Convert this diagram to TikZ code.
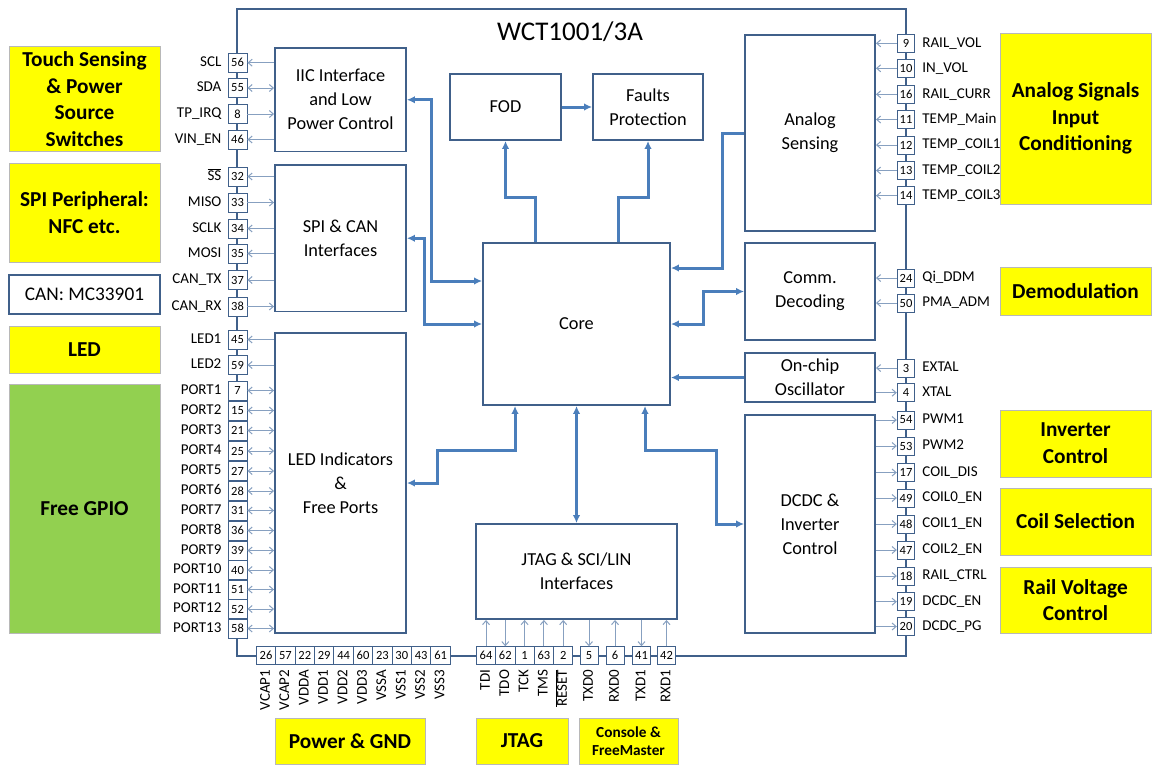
\documentclass[tikz,border=0pt]{standalone}
\usepackage{fontspec}
\setmainfont{Carlito}
\usetikzlibrary{arrows.meta,calc}
\definecolor{blk}{RGB}{64,96,138}
\definecolor{thk}{RGB}{74,126,187}
\definecolor{thn}{RGB}{135,160,192}
\definecolor{yel}{RGB}{255,255,0}
\definecolor{grn}{RGB}{146,208,80}
\begin{document}
\begin{tikzpicture}[x=1pt,y=-1pt,
  chip/.style={draw=blk,line width=2pt},
  block/.style={draw=blk,line width=1.9pt,fill=white,align=center,inner sep=0pt,font=\fontsize{18.3}{24}\selectfont},
  thkarr/.style={draw=thk,line width=3pt,>={Latex[length=8pt,width=7.5pt]}},
  pinarr/.style={draw=thn,line width=1pt,>={Straight Barb[length=4pt,width=7pt]}},
  lpin/.style={draw=blk,line width=0.9pt,fill=white,minimum width=19pt,minimum height=19pt,inner sep=0pt,font=\fontsize{12.5}{12.5}\selectfont},
  rpin/.style={lpin,minimum width=17.5pt,minimum height=18pt},
  bpin/.style={lpin,minimum width=19.4pt,minimum height=17.5pt},
  jpin/.style={lpin,minimum width=19.3pt,minimum height=17.5pt},
  spin/.style={lpin,minimum width=18pt,minimum height=17.5pt},
  plbl/.style={inner sep=0pt,font=\fontsize{15}{15}\selectfont,text height=10.5pt,text depth=3pt},
  ybox/.style={draw=black!28,line width=0.6pt,fill=yel,align=center,inner sep=0pt,font=\bfseries\fontsize{21.3}{26.7}\selectfont,minimum width=151pt},
]
\useasboundingbox (0,0) rectangle (1156,766);

% chip outline
\draw[chip] (237,655.5) -- (237,9) -- (906,9) -- (906,655.5) -- cycle;
\node[font=\fontsize{27}{27}\selectfont] (title) at (570,32) {WCT1001/3A};

% blocks
\node[block,minimum width=131pt,minimum height=103.5pt] (iic) at (340.5,99.75) {IIC Interface\\and Low\\Power Control};
\node[block,minimum width=131pt,minimum height=146.5pt] (spi) at (340.5,238.25) {SPI \& CAN\\Interfaces};
\node[block,minimum width=131pt,minimum height=300pt] (led) at (340.5,483) {LED Indicators\\\&\\Free Ports};
\node[block,minimum width=111pt,minimum height=66pt] (fod) at (505.5,107) {FOD};
\node[block,minimum width=110pt,minimum height=66pt] (faults) at (648,107) {Faults\\Protection};
\node[block,minimum width=187pt,minimum height=162pt] (core) at (576.5,324) {Core};
\node[block,minimum width=130pt,minimum height=196pt] (analog) at (810,133) {Analog\\Sensing};
\node[block,minimum width=130pt,minimum height=97pt] (comm) at (810,291.5) {Comm.\\Decoding};
\node[block,minimum width=130pt,minimum height=49pt] (osc) at (810,377.5) {On-chip\\Oscillator};
\node[block,minimum width=130pt,minimum height=218pt] (dcdc) at (810,524) {DCDC \&\\Inverter\\Control};
\node[block,minimum width=201pt,minimum height=95pt] (jtag) at (576.5,571.5) {JTAG \& SCI/LIN\\Interfaces};

% thick connectors
\draw[thkarr,<->] (iic.east) -| (431,281) -- ($(core.west)+(0,-43)$);
\draw[thkarr,<->] (spi.east) -| (424,324) -- (core.west);
\draw[thkarr,<->] (led.east) -| (437,450) -| ($(core.south)+(-61.5,0)$);
\draw[thkarr,<->] (core.south) -- (jtag.north);
\draw[thkarr,<->] ($(core.south)+(68.5,0)$) |- (716,450) |- (dcdc.west);
\draw[thkarr,->] ($(core.north)+(-41.5,0)$) |- (505.5,197) -- (fod.south);
\draw[thkarr,->] ($(core.north)+(41.5,0)$) |- (648,197) -- (faults.south);
\draw[thkarr,->] (fod.east) -- (faults.west);
\draw[thkarr,->] (analog.west) -| (722,268) -- ($(core.east)+(0,-56)$);
\draw[thkarr,<->] (comm.west) -| (703,324) -- (core.east);
\draw[thkarr,->] (osc.west) -- (osc.west -| core.east);

% left pins
\foreach \n/\y/\t/\d in {56/62.7/SCL/<-, 55/88/SDA/<->, 8/114/TP\_IRQ/->, 46/139.5/VIN\_EN/<-}{
  \node[lpin] (pL\n) at (237.5,\y) {\n};
  \node[plbl,anchor=east] (lL\n) at ($(pL\n.west)+(-6,0)$) {\t};
  \draw[pinarr,\d] (pL\n.east) -- (pL\n.east -| iic.west);
}
\foreach \n/\y/\t/\d in {32/176.5/{$\overline{\mbox{SS}}$}/<-, 33/202.5/MISO/->, 34/228.5/SCLK/<-, 35/253.5/MOSI/<-, 37/280/CAN\_TX/<-, 38/306.5/CAN\_RX/->}{
  \node[lpin] (pL\n) at (237.5,\y) {\n};
  \node[plbl,anchor=east] (lL\n) at ($(pL\n.west)+(-6,0)$) {\t};
  \draw[pinarr,\d] (pL\n.east) -- (pL\n.east -| spi.west);
}
\foreach \n/\y/\t/\d in {45/339.5/LED1/<-, 59/365/LED2/<-, 7/390.5/PORT1/<->, 15/410.5/PORT2/<->, 21/430.5/PORT3/<->, 25/451/PORT4/<->, 27/471/PORT5/<->, 28/491/PORT6/<->, 31/510.5/PORT7/<->, 36/530.5/PORT8/<->, 39/550.5/PORT9/<->, 40/570/PORT10/<->, 51/589.5/PORT11/<->, 52/609/PORT12/<->, 58/628.5/PORT13/<->}{
  \node[lpin] (pL\n) at (237.5,\y) {\n};
  \node[plbl,anchor=east] (lL\n) at ($(pL\n.west)+(-6,0)$) {\t};
  \draw[pinarr,\d] (pL\n.east) -- (pL\n.east -| led.west);
}

% right pins
\foreach \n/\y/\t in {9/43.3/RAIL\_VOL, 10/68.3/IN\_VOL, 16/94.3/RAIL\_CURR, 11/119.5/TEMP\_Main, 12/145/TEMP\_COIL1, 13/170.5/TEMP\_COIL2, 14/195.7/TEMP\_COIL3}{
  \node[rpin] (pR\n) at (906,\y) {\n};
  \node[plbl,anchor=west] (lR\n) at ($(pR\n.east)+(7,0)$) {\t};
  \draw[pinarr,->] (pR\n.west) -- (pR\n.west -| analog.east);
}
\foreach \n/\y/\t in {24/278/Qi\_DDM, 50/303/PMA\_ADM}{
  \node[rpin] (pR\n) at (906,\y) {\n};
  \node[plbl,anchor=west] (lR\n) at ($(pR\n.east)+(7,0)$) {\t};
  \draw[pinarr,->] (pR\n.west) -- (pR\n.west -| comm.east);
}
\foreach \n/\y/\t/\d in {3/368/EXTAL/->, 4/392.7/XTAL/<-}{
  \node[rpin] (pR\n) at (906,\y) {\n};
  \node[plbl,anchor=west] (lR\n) at ($(pR\n.east)+(7,0)$) {\t};
  \draw[pinarr,\d] (pR\n.west) -- (pR\n.west -| osc.east);
}
\foreach \n/\y/\t in {54/420/PWM1, 53/446/PWM2, 17/472.5/COIL\_DIS, 49/498/COIL0\_EN, 48/524/COIL1\_EN, 47/550/COIL2\_EN, 18/576/RAIL\_CTRL, 19/601.7/DCDC\_EN, 20/626.5/DCDC\_PG}{
  \node[rpin] (pR\n) at (906,\y) {\n};
  \node[plbl,anchor=west] (lR\n) at ($(pR\n.east)+(7,0)$) {\t};
  \draw[pinarr,<-] (pR\n.west) -- (pR\n.west -| dcdc.east);
}

% bottom power pins
\foreach \n/\x/\t in {26/266/VCAP1, 57/285.4/VCAP2, 22/304.8/VDDA, 29/324.2/VDD1, 44/343.6/VDD2, 60/363/VDD3, 23/382.4/VSSA, 30/401.8/VSS1, 43/421.2/VSS2, 61/440.6/VSS3}{
  \node[bpin] (pB\n) at (\x,655.5) {\n};
  \node[plbl,rotate=90,anchor=east] (lB\n) at ($(pB\n.south)+(0,5)$) {\t};
}
% bottom JTAG / SCI pins
\foreach \n/\x/\t/\d in {64/486/TDI/->, 62/505.3/TDO/<-, 1/524.6/TCK/->, 63/543.9/TMS/->, 2/563.2/{$\overline{\mbox{RESET}}$}/->}{
  \node[jpin] (pB\n) at (\x,655.5) {\n};
  \node[plbl,rotate=90,anchor=east] (lB\n) at ($(pB\n.south)+(0,5)$) {\t};
  \draw[pinarr,\d] (pB\n.north) -- (pB\n.north |- jtag.south);
}
\foreach \n/\x/\t/\d in {5/589/TXD0/<-, 6/615/RXD0/->, 41/641.5/TXD1/<-, 42/666.5/RXD1/->}{
  \node[spin] (pB\n) at (\x,655.5) {\n};
  \node[plbl,rotate=90,anchor=east] (lB\n) at ($(pB\n.south)+(0,5)$) {\t};
  \draw[pinarr,\d] (pB\n.north) -- (pB\n.north |- jtag.south);
}

% external function boxes
\node[ybox,minimum height=105pt] (ytouch) at (84.5,99.2) {Touch Sensing\\\& Power\\Source\\Switches};
\node[ybox,minimum height=99pt] (yspi) at (84.5,212.5) {SPI Peripheral:\\NFC etc.};
\node[draw=blk,line width=1.5pt,fill=white,minimum width=151pt,minimum height=39pt,inner sep=0pt,font=\fontsize{19.3}{19.3}\selectfont] (ycan) at (84.5,294.5) {CAN: MC33901};
\node[ybox,minimum height=47pt] (yled) at (84.5,349.5) {LED};
\node[ybox,fill=grn,minimum height=249pt] (ygpio) at (84.5,508.5) {Free GPIO};
\node[ybox,minimum height=171pt] (yanalog) at (1075.5,118.5) {Analog Signals\\Input\\Conditioning};
\node[ybox,minimum height=48pt] (ydemod) at (1075.5,291) {Demodulation};
\node[ybox,minimum height=67pt] (yinv) at (1075.5,443.5) {Inverter\\Control};
\node[ybox,minimum height=67pt] (ycoil) at (1075.5,521.5) {Coil Selection};
\node[ybox,minimum height=66pt] (yrail) at (1075.5,600) {Rail Voltage\\Control};
\node[ybox,minimum width=150pt,minimum height=46pt] (ypwr) at (350,741) {Power \& GND};
\node[ybox,minimum width=92pt,minimum height=46pt] (yjtag) at (522,741) {JTAG};
\node[ybox,minimum width=99pt,minimum height=46pt,font=\bfseries\fontsize{15.3}{18}\selectfont] (ycons) at (628.5,741) {Console \&\\FreeMaster};
\end{tikzpicture}
\end{document}
